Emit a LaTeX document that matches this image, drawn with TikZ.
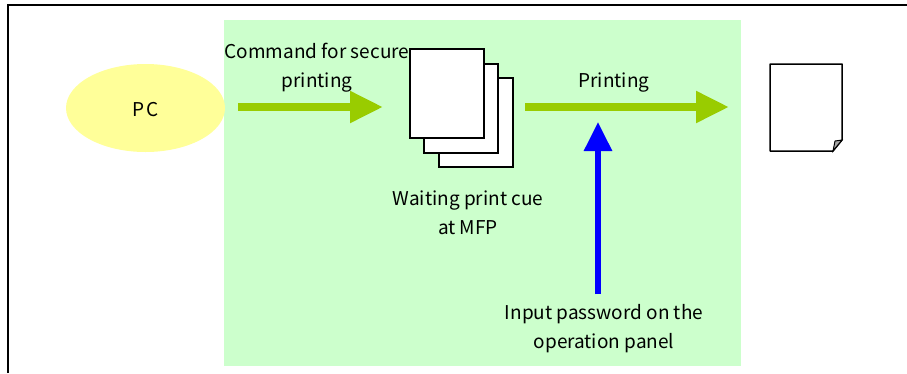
\documentclass[tikz,border=0pt]{standalone}
\usepackage{fontspec}
\setmainfont{Noto Sans CJK JP}
\newfontfamily\widefont[LetterSpace=12]{Noto Sans CJK JP}
\usetikzlibrary{arrows.meta,shapes.geometric}
\definecolor{panelgreen}{HTML}{CCFFCC}
\definecolor{pcyellow}{HTML}{FFFF99}
\definecolor{arrowgreen}{HTML}{99CC00}
\tikzset{
  x=1pt,y=-1pt,
  lbl/.style={align=center,font=\fontsize{19}{29}\selectfont,inner sep=0pt,text=black},
  sheet/.style={draw=black,fill=white,line width=1.5pt,line join=miter},
  bigarrow/.style={line width=8pt,draw=arrowgreen,-{Triangle[length=33pt,width=30pt]}},
  bluearrow/.style={line width=6pt,draw=blue,-{Triangle[length=29pt,width=27pt]}},
}
\begin{document}
\begin{tikzpicture}
\useasboundingbox (0,0) rectangle (907,373);
\draw[line width=2pt] (8,373) -- (8,5) -- (907,5);
\fill[panelgreen] (224,20) rectangle (741,366);
\node[fill=pcyellow,ellipse,minimum width=159pt,minimum height=88pt,inner sep=0pt] (pc) at (145.5,108) {};
\node[lbl] (pclabel) at (145.5,110) {\widefont PC};
\node[lbl] (cmd) at (317,67.5) {Command for secure\\printing};
\coordinate (a1s) at (238,107); \coordinate (a1e) at (383,107);
\draw[bigarrow] (a1s) -- (a1e);
\node[sheet,minimum width=74pt,minimum height=89pt,inner sep=0pt] (p3) at (476,122.5) {};
\node[sheet,minimum width=74pt,minimum height=89pt,inner sep=0pt] (p2) at (461,108.5) {};
\node[sheet,minimum width=74pt,minimum height=89pt,inner sep=0pt] (p1) at (447,93.5) {};
\node[lbl] (wait) at (468,212.5) {Waiting print cue\\at MFP};
\node[lbl] (print) at (614,83) {Printing};
\coordinate (a2s) at (525,107); \coordinate (a2e) at (729,107);
\draw[bigarrow] (a2s) -- (a2e);
\coordinate (a3s) at (598,294); \coordinate (a3e) at (598,122);
\draw[bluearrow] (a3s) -- (a3e);
\node[lbl] (input) at (604,329) {Input password on the\\operation panel};
\draw[sheet,line join=round] (770,64) -- (842,64) -- (842,140) -- (833,151) -- (770,151) -- cycle;
\draw[draw=black,fill=gray!70,line width=1pt] (842,140) -- (835,141) -- (833,151) -- cycle;
\end{tikzpicture}
\end{document}
